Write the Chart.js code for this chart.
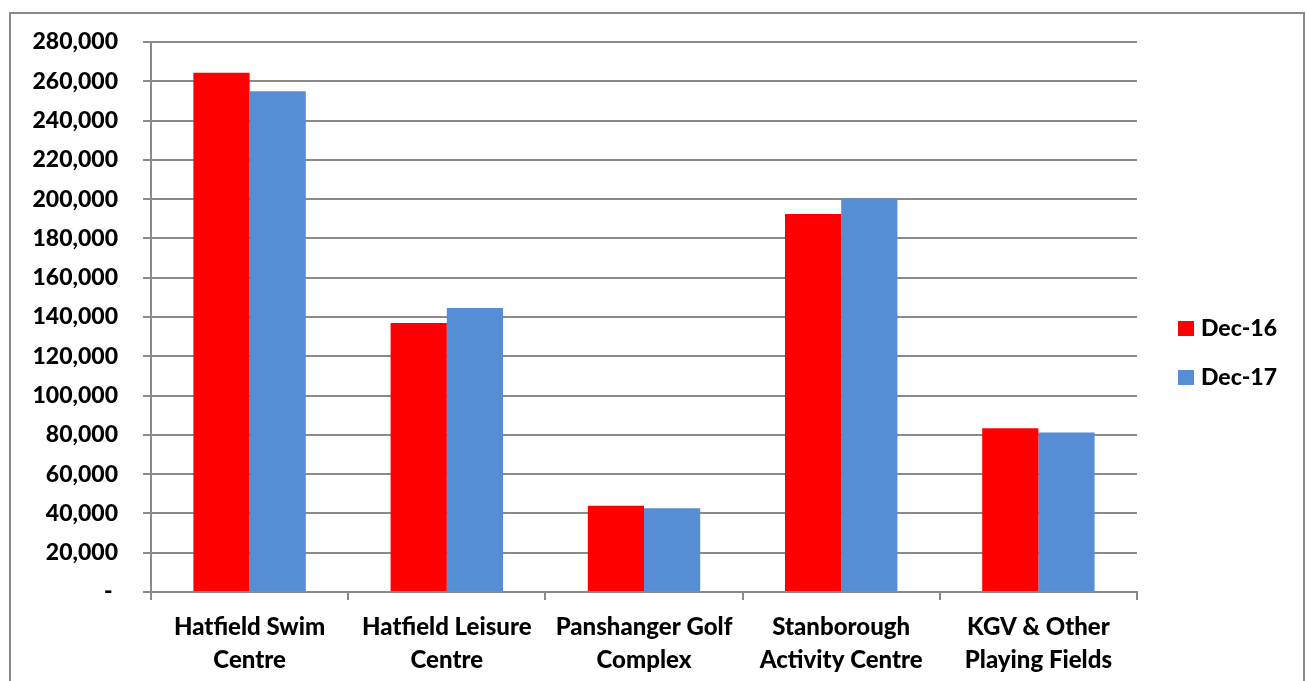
<!DOCTYPE html>
<html>
<head>
<meta charset="utf-8">
<script src="https://cdn.jsdelivr.net/npm/chart.js@4/dist/chart.umd.min.js"></script>
<style>
  html, body { margin: 0; padding: 0; background: #fff; overflow: hidden; }
  #box { position: absolute; left: 9px; top: 12px; width: 1292px; height: 700px; border: 2px solid #8a8a8a; box-sizing: content-box; }
  canvas { position: absolute; left: 0; top: 0; }
</style>
</head>
<body>
<div id="box"><canvas id="c" width="1292" height="667"></canvas></div>
<script>
const categories = [
  ['Hatfield Swim', 'Centre'],
  ['Hatfield Leisure', 'Centre'],
  ['Panshanger Golf', 'Complex'],
  ['Stanborough', 'Activity Centre'],
  ['KGV & Other', 'Playing Fields']
];
const seriesNames = ['Dec-16', 'Dec-17'];
const dec16 = [264400, 137000, 43900, 192500, 83400];
const dec17 = [254900, 144600, 42600, 200300, 81200];
const yTicks = { min: 0, max: 280000, step: 20000 };

const FONT = 'Lato, "Liberation Sans", sans-serif';
const WEIGHT = '900';
const GRID = '#8a8a8a';

const legendPlugin = {
  id: 'customLegend',
  afterDraw(chart) {
    const ctx = chart.ctx;
    ctx.save();
    ctx.font = WEIGHT + ' 23px ' + FONT;
    ctx.textBaseline = 'middle';
    ctx.textAlign = 'left';
    chart.data.datasets.forEach((ds, i) => {
      const y = 314 + i * 49;
      ctx.fillStyle = ds.backgroundColor;
      ctx.fillRect(1167, y - 7, 16, 15);
      ctx.fillStyle = '#000';
      ctx.fillText(ds.label, 1190, y + 1);
    });
    ctx.restore();
  }
};

new Chart(document.getElementById('c'), {
  type: 'bar',
  data: {
    labels: categories,
    datasets: [
      { label: seriesNames[0], data: dec16, backgroundColor: '#FF0000' },
      { label: seriesNames[1], data: dec17, backgroundColor: '#558ED5' }
    ]
  },
  options: {
    responsive: false,
    animation: false,
    devicePixelRatio: 1,
    layout: { padding: { left: 10, top: 28, right: 166, bottom: 0 } },
    datasets: { bar: { categoryPercentage: 0.57, barPercentage: 1.0 } },
    plugins: { legend: { display: false }, tooltip: { enabled: false } },
    scales: {
      x: {
        offset: true,
        grid: { offset: true, drawOnChartArea: false, drawTicks: true, tickLength: 8, color: GRID, lineWidth: 2 },
        border: { display: true, color: GRID, width: 2 },
        ticks: { color: '#000', font: { family: FONT, size: 24, weight: WEIGHT, lineHeight: 1.375 }, padding: 11, maxRotation: 0, autoSkip: false },
        afterFit(scale) { scale.height = 89; scale.paddingLeft = 0; scale.paddingRight = 0; }
      },
      y: {
        min: yTicks.min, max: yTicks.max,
        grid: { color: GRID, lineWidth: 2, drawTicks: true, tickLength: 8 },
        border: { display: true, color: GRID, width: 2 },
        ticks: {
          stepSize: yTicks.step, color: '#000', padding: 25,
          font: { family: FONT, size: 23, weight: WEIGHT },
          callback: v => v === 0 ? '- ' : v.toLocaleString('en-US')
        },
        afterFit(scale) { scale.width = 130; scale.paddingTop = 0; scale.paddingBottom = 0; }
      }
    }
  },
  plugins: [legendPlugin]
});
</script>
</body>
</html>
